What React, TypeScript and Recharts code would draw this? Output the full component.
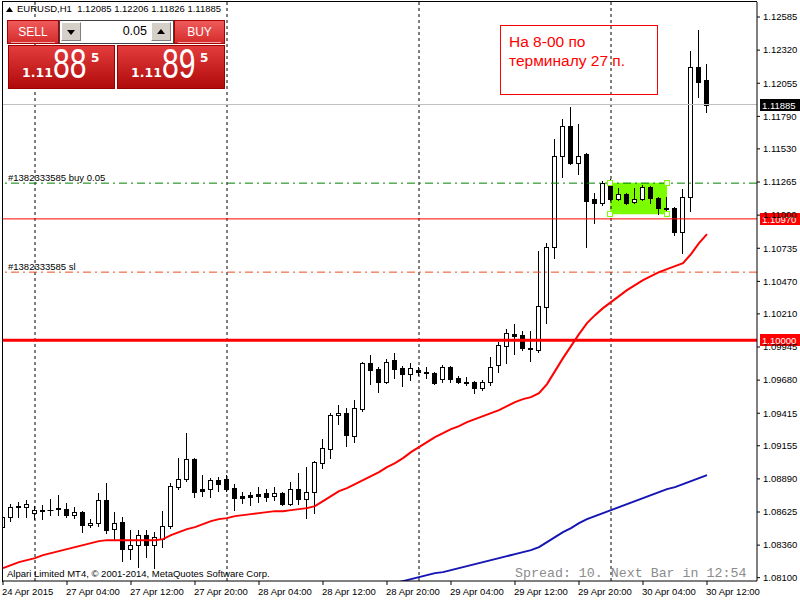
import React from 'react';
import { ComposedChart, XAxis, YAxis, Bar, Line, ReferenceLine, ReferenceArea, ReferenceDot } from 'recharts';

const FONT = "'Liberation Sans', Arial, sans-serif";

// EURUSD H1, 24 Apr 20:00 .. 30 Apr 12:00 (one entry per bar)
const opens = [
  1.08504, 1.08584, 1.08672, 1.08664, 1.08616, 1.08640, 1.08640, 1.08656, 1.08648, 1.08600,
  1.08624, 1.08520, 1.08536, 1.08720, 1.08488, 1.08544, 1.08328, 1.08360, 1.08440, 1.08360,
  1.08408, 1.08512, 1.08824, 1.08888, 1.09048, 1.08808, 1.08808, 1.08880, 1.08888, 1.08816,
  1.08752, 1.08760, 1.08768, 1.08776, 1.08752, 1.08776, 1.08688, 1.08808, 1.08728, 1.08784,
  1.09016, 1.09128, 1.09400, 1.09416, 1.09232, 1.09448, 1.09816, 1.09768, 1.09664, 1.09840,
  1.09776, 1.09728, 1.09760, 1.09744, 1.09736, 1.09688, 1.09784, 1.09696, 1.09664, 1.09664,
  1.09616, 1.09664, 1.09800, 1.09952, 1.10048, 1.10040, 1.09936, 1.09920, 1.10264, 1.10744,
  1.11472, 1.11712, 1.11416, 1.11488, 1.11128, 1.11096, 1.11264, 1.11128, 1.11168, 1.11104,
  1.11128, 1.11224, 1.11136, 1.11056, 1.11056, 1.10864, 1.11144, 1.12184, 1.12085,
];
const highs = [
  1.08616, 1.08688, 1.08704, 1.08720, 1.08672, 1.08680, 1.08728, 1.08760, 1.08696, 1.08664,
  1.08632, 1.08568, 1.08776, 1.08856, 1.08624, 1.08584, 1.08480, 1.08480, 1.08480, 1.08464,
  1.08632, 1.08856, 1.09056, 1.09256, 1.09056, 1.08920, 1.08896, 1.08904, 1.08920, 1.08848,
  1.08784, 1.08784, 1.08824, 1.08808, 1.08824, 1.08784, 1.08864, 1.08936, 1.08984, 1.09032,
  1.09208, 1.09416, 1.09480, 1.09456, 1.09520, 1.09824, 1.09880, 1.09784, 1.09848, 1.09896,
  1.09792, 1.09816, 1.09784, 1.09784, 1.09744, 1.09800, 1.09792, 1.09712, 1.09704, 1.09672,
  1.09680, 1.09864, 1.09984, 1.10088, 1.10128, 1.10072, 1.10072, 1.10712, 1.10776, 1.11608,
  1.11768, 1.11864, 1.11728, 1.11496, 1.11176, 1.11272, 1.11288, 1.11216, 1.11176, 1.11216,
  1.11240, 1.11232, 1.11144, 1.11144, 1.11064, 1.11208, 1.12312, 1.12480, 1.12206,
];
const lows = [
  1.08480, 1.08552, 1.08584, 1.08584, 1.08568, 1.08568, 1.08600, 1.08600, 1.08584, 1.08576,
  1.08464, 1.08504, 1.08512, 1.08456, 1.08400, 1.08232, 1.08248, 1.08184, 1.08264, 1.08176,
  1.08344, 1.08496, 1.08808, 1.08872, 1.08744, 1.08752, 1.08744, 1.08792, 1.08792, 1.08640,
  1.08696, 1.08680, 1.08704, 1.08712, 1.08720, 1.08680, 1.08680, 1.08688, 1.08576, 1.08616,
  1.08976, 1.09056, 1.09328, 1.09152, 1.09184, 1.09432, 1.09648, 1.09584, 1.09656, 1.09696,
  1.09632, 1.09680, 1.09720, 1.09696, 1.09648, 1.09664, 1.09664, 1.09656, 1.09640, 1.09576,
  1.09600, 1.09640, 1.09744, 1.09816, 1.09888, 1.09920, 1.09832, 1.09904, 1.10136, 1.10656,
  1.11304, 1.11408, 1.11328, 1.10744, 1.10936, 1.11080, 1.11120, 1.11120, 1.11088, 1.11096,
  1.11120, 1.11096, 1.11008, 1.11000, 1.10840, 1.10696, 1.11032, 1.11944, 1.11826,
];
const closes = [
  1.08584, 1.08664, 1.08664, 1.08688, 1.08640, 1.08636, 1.08644, 1.08648, 1.08600, 1.08624,
  1.08520, 1.08536, 1.08720, 1.08480, 1.08536, 1.08328, 1.08360, 1.08440, 1.08360, 1.08424,
  1.08512, 1.08832, 1.08888, 1.09048, 1.08784, 1.08792, 1.08880, 1.08848, 1.08808, 1.08736,
  1.08736, 1.08744, 1.08752, 1.08744, 1.08776, 1.08688, 1.08808, 1.08728, 1.08784, 1.09024,
  1.09136, 1.09400, 1.09416, 1.09240, 1.09456, 1.09816, 1.09760, 1.09664, 1.09824, 1.09768,
  1.09728, 1.09776, 1.09744, 1.09736, 1.09656, 1.09784, 1.09688, 1.09664, 1.09660, 1.09616,
  1.09664, 1.09784, 1.09960, 1.10056, 1.10032, 1.09936, 1.09928, 1.10272, 1.10744, 1.11472,
  1.11712, 1.11416, 1.11472, 1.11112, 1.11096, 1.11256, 1.11128, 1.11168, 1.11096, 1.11128,
  1.11224, 1.11136, 1.11056, 1.11052, 1.10864, 1.11144, 1.12184, 1.12064, 1.11885,
];

// moving averages (red = fast, blue = slow)
const maFast = [
  1.08176, 1.08200, 1.08224, 1.08240, 1.08256, 1.08280, 1.08296, 1.08312, 1.08328, 1.08344,
  1.08360, 1.08376, 1.08392, 1.08400, 1.08400, 1.08400, 1.08400, 1.08400, 1.08400, 1.08400,
  1.08408, 1.08440, 1.08464, 1.08488, 1.08504, 1.08528, 1.08552, 1.08568, 1.08576, 1.08592,
  1.08600, 1.08608, 1.08616, 1.08624, 1.08632, 1.08632, 1.08640, 1.08648, 1.08656, 1.08672,
  1.08712, 1.08752, 1.08792, 1.08816, 1.08848, 1.08880, 1.08912, 1.08944, 1.08984, 1.09016,
  1.09056, 1.09104, 1.09144, 1.09184, 1.09224, 1.09256, 1.09288, 1.09312, 1.09344, 1.09368,
  1.09392, 1.09416, 1.09440, 1.09472, 1.09504, 1.09528, 1.09544, 1.09576, 1.09648, 1.09752,
  1.09856, 1.09952, 1.10048, 1.10136, 1.10200, 1.10256, 1.10304, 1.10352, 1.10400, 1.10440,
  1.10480, 1.10512, 1.10544, 1.10568, 1.10592, 1.10616, 1.10688, 1.10776, 1.10848,
];
const maSlow = [
  null, null, null, null, null, null, null, null, null, null,
  null, null, null, null, null, null, null, null, null, null,
  null, null, null, null, null, null, null, null, null, null,
  null, null, null, null, null, null, null, null, null, null,
  null, null, null, null, null, null, null, null, null, 1.08056,
  1.08072, 1.08088, 1.08104, 1.08120, 1.08136, 1.08144, 1.08160, 1.08176, 1.08192, 1.08208,
  1.08224, 1.08240, 1.08256, 1.08272, 1.08288, 1.08304, 1.08320, 1.08344, 1.08384, 1.08424,
  1.08464, 1.08496, 1.08536, 1.08568, 1.08592, 1.08616, 1.08640, 1.08664, 1.08688, 1.08712,
  1.08736, 1.08760, 1.08784, 1.08808, 1.08824, 1.08848, 1.08872, 1.08896, 1.08920,
];

const timeLabels = [
  '24 Apr 2015', '27 Apr 04:00', '27 Apr 12:00', '27 Apr 20:00', '28 Apr 04:00', '28 Apr 12:00',
  '28 Apr 20:00', '29 Apr 04:00', '29 Apr 12:00', '29 Apr 20:00', '30 Apr 04:00', '30 Apr 12:00',
];
const timeTicks = timeLabels.map((_, k) => k * 8);
const daySeparators = [4, 28, 52, 76];

const priceTicks = [
  1.12585, 1.1232, 1.12055, 1.1179, 1.1153, 1.11265, 1.11, 1.10735, 1.1047, 1.1021,
  1.09945, 1.0968, 1.09415, 1.09155, 1.0889, 1.08625, 1.0836, 1.081,
];

const bidPrice = 1.11885;
const tradeLevel = 1.1097;
const roundLevel = 1.1;
const buyOrder = 1.11256;
const stopLevel = 1.10544;
const boxBars = [75.9, 83];
const boxPrices = [1.11008, 1.1126];

const data = opens.map((o, i) => ({
  i,
  o,
  h: highs[i],
  l: lows[i],
  c: closes[i],
  range: [lows[i], highs[i]],
  ma1: maFast[i],
  ma2: maSlow[i],
}));

function Candle(props: any) {
  const { x, y, width, height, payload } = props;
  if (!payload || height == null) return null;
  const { o, h, l, c } = payload;
  const top = Math.min(y, y + height);
  const k = Math.abs(height) / (h - l);
  const yAt = (p: number) => top + (h - p) * k;
  const cx = Math.floor(x + width / 2) + 0.5;
  const bTop = Math.round(yAt(Math.max(o, c)));
  const bBot = Math.round(yAt(Math.min(o, c)));
  return (
    <g>
      <line x1={cx} x2={cx} y1={Math.round(yAt(h))} y2={Math.round(yAt(l)) + 1} stroke="#000" />
      {bBot - bTop < 1 ? (
        <line x1={cx - 3} x2={cx + 3} y1={bTop + 0.5} y2={bTop + 0.5} stroke="#000" />
      ) : (
        <rect x={cx - 2} y={bTop + 0.5} width={4} height={bBot - bTop}
          fill={c >= o ? '#fff' : '#000'} stroke="#000" />
      )}
    </g>
  );
}

function TimeTick(props: any) {
  const { x, y, payload } = props;
  return (
    <text x={x - 1} y={y + 8} fontSize={9.5} fontFamily={FONT} fill="#000">
      {timeLabels[payload.value / 8]}
    </text>
  );
}

const priceTag = (bg: string, value: number) => (props: any) => {
  const vb = props.viewBox;
  const right = vb.x + vb.width;
  const yy = Math.round(vb.y);
  return (
    <g>
      <rect x={right + 3} y={yy - 6} width={43} height={12} fill={bg} />
      <text x={right + 5} y={yy + 4} fontSize={9.5} fontFamily={FONT} fill="#fff">{value.toFixed(5)}</text>
    </g>
  );
};

const leftNote = (text: string) => (props: any) => (
  <text x={props.viewBox.x + 6} y={props.viewBox.y - 2} fontSize={9.5} fontFamily={FONT} fill="#000">{text}</text>
);

function Handle(props: any) {
  const { cx, cy } = props;
  return <rect x={Math.round(cx) - 2.5} y={Math.round(cy) - 2.5} width={5} height={5} fill="#fff" stroke="#7cfc00" />;
}

const redGrad = 'linear-gradient(#f05a5a, #d42c2c)';
const bigGrad = 'linear-gradient(#e43c3c, #b00a0a)';

function PricePanel({ left, width, parts }: { left: number; width: number; parts: string[] }) {
  return (
    <div style={{ position: 'absolute', left, top: 45, width, height: 44, background: bigGrad, border: '1px solid #9a0000', boxSizing: 'border-box' }}>
      <span style={{ position: 'absolute', left: 13, top: 21, fontFamily: "'DejaVu Sans', sans-serif", fontWeight: 'bold', fontSize: 12.5, lineHeight: '12.5px', color: '#fff' }}>{parts[0]}</span>
      <span style={{ position: 'absolute', left: 44, top: -4, fontFamily: FONT, fontSize: 43, lineHeight: '43px', color: '#fff', display: 'inline-block', transform: 'scaleX(0.7)', transformOrigin: 'left' }}>{parts[1]}</span>
      <span style={{ position: 'absolute', left: 82, top: 6, fontFamily: "'DejaVu Sans', sans-serif", fontWeight: 'bold', fontSize: 12, lineHeight: '12px', color: '#fff' }}>{parts[2]}</span>
    </div>
  );
}

function SpinButton({ left, up }: { left: number; up: boolean }) {
  return (
    <div style={{ position: 'absolute', left, top: 22, width: 20, height: 19, background: '#d4d0c8', borderTop: '1px solid #fff', borderLeft: '1px solid #fff', borderRight: '1px solid #808080', borderBottom: '1px solid #808080', boxSizing: 'border-box' }}>
      <svg width={18} height={17} style={{ position: 'absolute', left: 0, top: 0 }}>
        <polygon points={up ? '5,11 13,11 9,6' : '5,7 13,7 9,12'} fill="#000" />
      </svg>
    </div>
  );
}

export default function App() {
  const last = opens.length - 1;
  const header = `EURUSD,H1  ${opens[last].toFixed(5)} ${highs[last].toFixed(5)} ${lows[last].toFixed(5)} ${closes[last].toFixed(5)}`;
  return (
    <div style={{ position: 'fixed', left: 0, top: 0, width: 800, height: 600, background: '#fff', overflow: 'hidden' }}>
      <ComposedChart width={800} height={600} data={data} margin={{ top: 2, right: 0, left: 2, bottom: 0 }}>
        <XAxis type="number" dataKey="i" domain={[-0.125, 94.25]} ticks={timeTicks} interval={0}
          tick={<TimeTick />} tickSize={4} height={19} allowDataOverflow
          axisLine={{ stroke: '#000' }} tickLine={{ stroke: '#000' }} />
        <YAxis orientation="right" width={43} domain={[1.08073, 1.12705]} ticks={priceTicks} interval={0}
          allowDataOverflow tickSize={3} tickMargin={3} tickFormatter={(v: number) => v.toFixed(5)}
          tick={{ fontSize: 9.5, fill: '#000', fontFamily: FONT }}
          axisLine={{ stroke: '#000' }} tickLine={{ stroke: '#000' }} />
        <ReferenceArea x1={boxBars[0]} x2={boxBars[1]} y1={boxPrices[0]} y2={boxPrices[1]}
          fill="#7cfc00" fillOpacity={1} stroke="none" zIndex={10} />
        {daySeparators.map((d) => (
          <ReferenceLine key={d} x={d} stroke="#000" strokeDasharray="3 3" zIndex={20} />
        ))}
        <Bar dataKey="range" barSize={5} shape={Candle} isAnimationActive={false} zIndex={300} />
        <ReferenceLine y={bidPrice} stroke="#c0c0c0" zIndex={350} label={priceTag('#000', bidPrice)} />
        <ReferenceLine y={buyOrder} stroke="#008000" strokeDasharray="8 4 2 4" zIndex={350}
          label={leftNote('#1382333585 buy 0.05')} />
        <ReferenceLine y={tradeLevel} stroke="#ff0000" zIndex={350} label={priceTag('#ff0000', tradeLevel)} />
        <ReferenceLine y={stopLevel} stroke="#f04a1a" strokeDasharray="8 4 2 4" zIndex={350}
          label={leftNote('#1382333585 sl')} />
        <ReferenceLine y={roundLevel} stroke="#ff0000" strokeWidth={3} zIndex={350} label={priceTag('#ff0000', roundLevel)} />
        <Line dataKey="ma1" type="linear" stroke="#ff0000" strokeWidth={2} dot={false} isAnimationActive={false} zIndex={400} />
        <Line dataKey="ma2" type="linear" stroke="#1414b4" strokeWidth={2} dot={false} isAnimationActive={false} zIndex={400} />
        {[boxBars[0], boxBars[1]].flatMap((bx) => boxPrices.map((py) => (
          <ReferenceDot key={`${bx}-${py}`} x={bx} y={py} shape={Handle} zIndex={450} />
        )))}
      </ComposedChart>

      {/* chart frame */}
      <div style={{ position: 'absolute', left: 2, top: 1, width: 755, height: 1, background: '#000' }} />
      <div style={{ position: 'absolute', left: 2, top: 1, width: 1, height: 581, background: '#000' }} />

      {/* symbol header */}
      <svg width={8} height={6} style={{ position: 'absolute', left: 6, top: 7 }}>
        <polygon points="0,5 7,5 3.5,0" fill="#000" />
      </svg>
      <div style={{ position: 'absolute', left: 17, top: 3, fontFamily: FONT, fontSize: 9.5, lineHeight: '12px', whiteSpace: 'pre' }}>{header}</div>

      {/* one click trading */}
      <div style={{ position: 'absolute', left: 7, top: 20, width: 52, height: 24, background: redGrad, border: '1px solid #a80000', boxSizing: 'border-box' }}>
        <div style={{ position: 'absolute', left: 0, top: 4, width: 50, textAlign: 'center', fontFamily: FONT, fontSize: 12, color: '#fff' }}>SELL</div>
        <div style={{ position: 'absolute', left: 3, top: 21, width: 44, height: 1, background: '#f7a8a8' }} />
      </div>
      <div style={{ position: 'absolute', left: 59, top: 20, width: 115, height: 24, background: '#fff', border: '1px solid #404040', boxSizing: 'border-box' }} />
      <SpinButton left={61} up={false} />
      <SpinButton left={151} up={true} />
      <div style={{ position: 'absolute', left: 84, top: 24, width: 63, textAlign: 'right', fontFamily: FONT, fontSize: 12.5, color: '#000' }}>0.05</div>
      <div style={{ position: 'absolute', left: 174, top: 20, width: 51, height: 24, background: redGrad, border: '1px solid #a80000', boxSizing: 'border-box' }}>
        <div style={{ position: 'absolute', left: 0, top: 4, width: 49, textAlign: 'center', fontFamily: FONT, fontSize: 12, color: '#fff' }}>BUY</div>
        <div style={{ position: 'absolute', left: 3, top: 21, width: 43, height: 1, background: '#f7a8a8' }} />
      </div>
      <PricePanel left={8} width={107} parts={['1.11', '88', '5']} />
      <PricePanel left={117} width={108} parts={['1.11', '89', '5']} />

      {/* text label object */}
      <div style={{ position: 'absolute', left: 500, top: 25, width: 158, height: 70, border: '1px solid #ff0000', boxSizing: 'border-box' }} />
      <div style={{ position: 'absolute', left: 509, top: 34, fontFamily: FONT, fontSize: 15.5, lineHeight: '15.5px', color: '#ff0000', whiteSpace: 'pre' }}>На 8-00 по</div>
      <div style={{ position: 'absolute', left: 509, top: 53, fontFamily: FONT, fontSize: 15.5, lineHeight: '15.5px', color: '#ff0000', whiteSpace: 'pre' }}>терминалу 27 п.</div>

      {/* footer texts */}
      <div style={{ position: 'absolute', left: 7, top: 568, fontFamily: FONT, fontSize: 9.5, lineHeight: '12px', whiteSpace: 'pre' }}>Alpari Limited MT4, © 2001-2014, MetaQuotes Software Corp.</div>
      <div style={{ position: 'absolute', left: 515, top: 566, fontFamily: "'Liberation Mono', monospace", fontSize: 13.3, lineHeight: '16px', color: '#8c8c8c', whiteSpace: 'pre' }}>Spread: 10. Next Bar in 12:54</div>
    </div>
  );
}
